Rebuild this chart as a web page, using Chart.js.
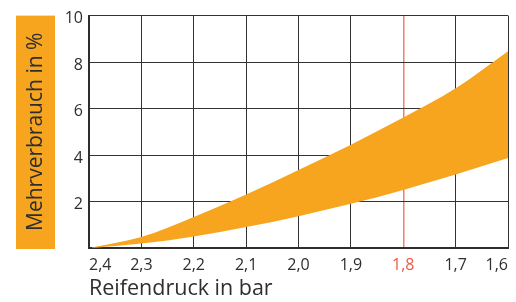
<!DOCTYPE html>
<html>
<head>
<meta charset="utf-8">
<script src="https://cdn.jsdelivr.net/npm/chart.js@4"></script>
<style>
  html, body { margin: 0; padding: 0; background: #ffffff; }
  #wrap { width: 516px; height: 302px; }
</style>
</head>
<body>
<div id="wrap"><canvas id="chart" width="516" height="302"></canvas></div>
<script>
const pressures = [2.4, 2.3, 2.2, 2.1, 2.0, 1.9, 1.8, 1.7, 1.6];
const upperValues = [0, 0.47, 1.33, 2.3, 3.36, 4.44, 5.61, 6.87, 8.47];
const lowerValues = [0, 0.19, 0.5, 0.9, 1.37, 1.9, 2.5, 3.16, 3.87];
const yTicks = [0, 2, 4, 6, 8, 10];
const markedPressure = 1.8;

const ORANGE = "#f7a51f";
const RED_LINE = "#f0806b";
const RED_TEXT = "#ea5a45";
const INK = "#2e2e2e";
const GRID = "#333333";
const FONT = "'Open Sans', sans-serif";

// pressure falls from left to right, so the x axis runs on negated values
function isMarked(value) {
  return Math.abs(-value - markedPressure) < 1e-6;
}

function formatPressure(value) {
  return Math.abs(value).toFixed(1).replace(".", ",");
}

const titleBox = {
  id: "titleBox",
  beforeDraw(chart) {
    const { ctx, chartArea } = chart;
    ctx.save();
    ctx.fillStyle = ORANGE;
    ctx.fillRect(16, chartArea.top, 39, chartArea.bottom - chartArea.top + 1);
    ctx.restore();
  }
};

new Chart(document.querySelector("#chart"), {
  type: "line",
  data: {
    datasets: [
      {
        label: "max",
        data: pressures.map((p, i) => ({ x: -p, y: upperValues[i] })),
        backgroundColor: ORANGE,
        borderWidth: 0,
        pointRadius: 0,
        fill: "+1",
        cubicInterpolationMode: "monotone"
      },
      {
        label: "min",
        data: pressures.map((p, i) => ({ x: -p, y: lowerValues[i] })),
        borderWidth: 0,
        pointRadius: 0,
        fill: false,
        cubicInterpolationMode: "monotone"
      }
    ]
  },
  options: {
    responsive: false,
    animation: false,
    layout: {
      padding: { left: 0, right: 5, top: 14, bottom: 0 }
    },
    plugins: {
      legend: { display: false },
      tooltip: { enabled: false }
    },
    scales: {
      x: {
        type: "linear",
        min: -2.4,
        max: -1.6,
        z: 1,
        afterFit: scale => { scale.height = 54; },
        border: { color: INK, width: 2 },
        grid: {
          drawTicks: false,
          lineWidth: ctx => isMarked(ctx.tick.value) ? 1.5 : 1,
          color: ctx => isMarked(ctx.tick.value) ? RED_LINE : GRID
        },
        ticks: {
          stepSize: 0.1,
          align: "inner",
          padding: 8,
          color: ctx => isMarked(ctx.tick.value) ? RED_TEXT : INK,
          font: { family: FONT, size: 16 },
          callback: value => formatPressure(value)
        },
        title: {
          display: true,
          text: "Reifendruck in bar",
          align: "start",
          color: INK,
          padding: { top: 0, bottom: 0 },
          font: { family: FONT, size: 21.5 }
        }
      },
      y: {
        min: 0,
        max: 10,
        z: 1,
        afterFit: scale => { scale.width = 89; },
        afterBuildTicks: scale => {
          scale.ticks = yTicks.map(value => ({ value }));
        },
        border: { color: INK, width: 2 },
        grid: {
          drawTicks: false,
          lineWidth: 1,
          color: GRID
        },
        ticks: {
          padding: 6,
          labelOffset: 3,
          color: INK,
          font: { family: FONT, size: 16 },
          callback: value => value === 0 ? "" : value
        },
        title: {
          display: true,
          text: "Mehrverbrauch in %",
          color: INK,
          padding: { top: 23, bottom: 0 },
          font: { family: FONT, size: 21 }
        }
      }
    }
  },
  plugins: [titleBox]
});
</script>
</body>
</html>
